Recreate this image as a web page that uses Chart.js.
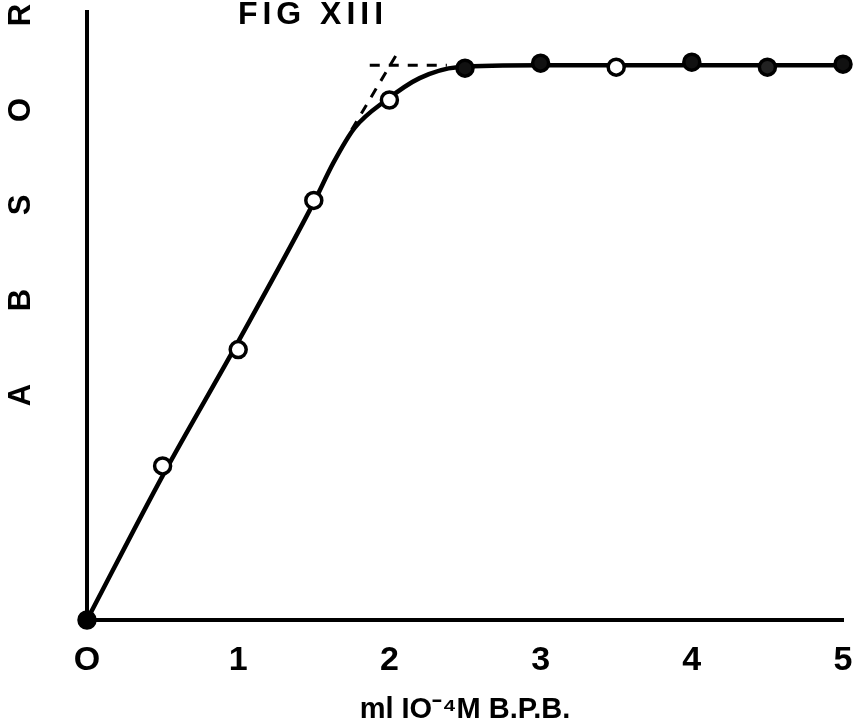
<!DOCTYPE html>
<html>
<head>
<meta charset="utf-8">
<script src="https://cdn.jsdelivr.net/npm/chart.js@4"></script>
<style>
  html, body { margin: 0; padding: 0; background: #fff; }
  #wrap { width: 857px; height: 727px; }
</style>
</head>
<body>
<div id="wrap"><canvas id="fig" width="857" height="727"></canvas></div>
<script>
// measured points (ml of 10^-4 M BPB vs absorbance, arbitrary units)
const volumes = [0, 0.5, 1, 1.5, 2, 2.5, 3, 3.5, 4, 4.5, 5];
const absorb = [0, 0.155, 0.272, 0.422, 0.523, 0.555, 0.560, 0.556, 0.561, 0.556, 0.559];

// hand-drawn curve
const curveX = [0, 0.5, 1.0, 1.5, 1.63, 1.77, 1.98, 2.2, 2.45, 3, 3.5, 4, 4.5, 5];
const curveY = [0, 0.145, 0.28, 0.42, 0.46, 0.495, 0.523, 0.545, 0.556, 0.558, 0.558, 0.558, 0.558, 0.558];

// dashed construction lines at the break point
const flatDashX = [1.87, 2.38];
const flatDashY = [0.558, 0.558];
const slopeDashX = [1.75, 2.06];
const slopeDashY = [0.493, 0.572];

const xTickLabels = ['O', '1', '2', '3', '4', '5'];
const xTitle = 'ml IO\u207B\u2074M B.P.B.';
const yTitle = 'ABSOR';
const figTitle = 'FIG XIII';

const toPts = (xs, ys) => xs.map((x, i) => ({ x: x, y: ys[i] }));

// filled vs open markers as they appear in the scan
const markerFill = ['#000', '#fff', '#fff', '#fff', '#fff', '#111', '#111', '#fff', '#111', '#222', '#111'];

const lettering = {
    id: 'lettering',
    afterDraw(chart) {
        const ctx = chart.ctx;
        ctx.save();
        ctx.fillStyle = '#000';
        ctx.textAlign = 'center';
        ctx.textBaseline = 'middle';

        // figure title
        ctx.font = 'bold 32px "Liberation Sans"';
        ctx.letterSpacing = '5px';
        ctx.fillText(figTitle, 313, 15);
        ctx.letterSpacing = '0px';

        // spaced-out vertical axis word
        ctx.font = 'bold 31px "Liberation Sans"';
        for (let i = 0; i < yTitle.length; i++) {
            ctx.save();
            ctx.translate(21, 395 - i * 95);
            ctx.rotate(-Math.PI / 2);
            ctx.fillText(yTitle[i], 0, 0);
            ctx.restore();
        }
        ctx.restore();
    }
};

new Chart(document.getElementById('fig'), {
    type: 'scatter',
    data: {
        datasets: [
            {
                data: toPts(volumes, absorb),
                showLine: false,
                pointRadius: 8,
                pointBorderWidth: 3.5,
                pointBorderColor: '#000',
                pointBackgroundColor: markerFill,
                clip: false,
                order: 0
            },
            {
                data: toPts(curveX, curveY),
                showLine: true,
                borderColor: '#000',
                borderWidth: 4.5,
                pointRadius: 0,
                cubicInterpolationMode: 'monotone',
                clip: false,
                order: 1
            },
            {
                data: toPts(flatDashX, flatDashY),
                showLine: true,
                borderColor: '#000',
                borderWidth: 3,
                borderDash: [10, 9],
                pointRadius: 0,
                order: 2
            },
            {
                data: toPts(slopeDashX, slopeDashY),
                showLine: true,
                borderColor: '#000',
                borderWidth: 3,
                borderDash: [10, 9],
                pointRadius: 0,
                order: 2
            }
        ]
    },
    options: {
        responsive: false,
        animation: false,
        layout: { padding: { left: 0, top: 8, right: 0, bottom: 0 } },
        plugins: {
            legend: { display: false },
            tooltip: { enabled: false }
        },
        scales: {
            x: {
                type: 'linear',
                min: 0,
                max: 5,
                afterFit: (s) => { s.height = 107; s.paddingRight = 14; },
                grid: { display: false },
                border: { display: true, color: '#000', width: 4 },
                ticks: {
                    stepSize: 1,
                    padding: 12,
                    color: '#000',
                    font: { family: 'Liberation Sans', weight: 'bold', size: 34 },
                    callback: (v) => xTickLabels[v]
                },
                title: {
                    display: true,
                    text: xTitle,
                    color: '#000',
                    padding: { top: 0, bottom: 0 },
                    font: { family: 'Liberation Sans', weight: 'bold', size: 29 }
                }
            },
            y: {
                type: 'linear',
                min: 0,
                max: 0.612,
                afterFit: (s) => { s.width = 87; },
                grid: { display: false },
                border: { display: true, color: '#000', width: 4 },
                ticks: { display: false }
            }
        }
    },
    plugins: [lettering]
});
</script>
</body>
</html>
